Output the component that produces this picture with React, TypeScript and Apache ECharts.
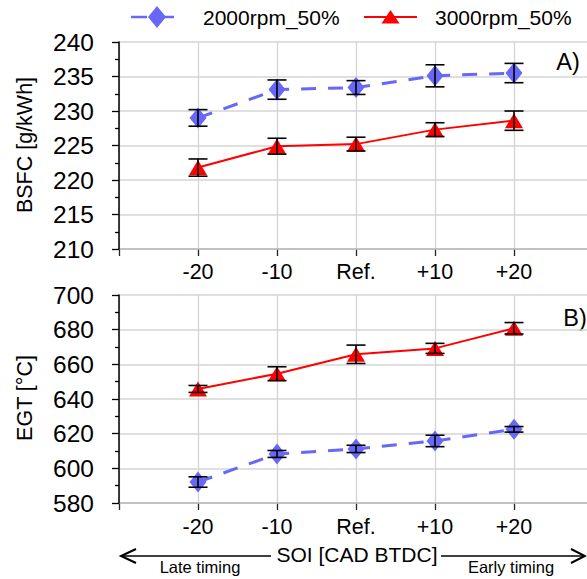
import React, { useEffect, useRef } from "react";
import * as echarts from "echarts";

const categories = ["", "-20", "-10", "Ref.", "+10", "+20", ""];
const seriesNames = ["2000rpm_50%", "3000rpm_50%"];
const bsfc2000 = [null, 229.0, 233.1, 233.4, 235.1, 235.5, null];
const bsfc2000Err = [null, 1.2, 1.4, 1.0, 1.6, 1.4, null];
const bsfc3000 = [null, 221.8, 224.9, 225.2, 227.3, 228.6, null];
const bsfc3000Err = [null, 1.25, 1.15, 1.0, 1.0, 1.4, null];
const egt2000 = [null, 592.1, 608.3, 611.2, 615.8, 622.5, null];
const egt2000Err = [null, 3.0, 2.0, 2.1, 3.3, 1.6, null];
const egt3000 = [null, 645.8, 654.6, 665.8, 669.2, 680.8, null];
const egt3000Err = [null, 2.0, 4.0, 5.3, 2.9, 3.3, null];

const FONT = "'Liberation Sans', Arial, sans-serif";
const BLUE = "#6767F8";
const RED = "#FF0000";

function errData(vals: (number | null)[], errs: (number | null)[]) {
  const out: number[][] = [];
  vals.forEach((v, i) => {
    if (v != null && errs[i] != null) out.push([i, v - (errs[i] as number), v + (errs[i] as number)]);
  });
  return out;
}

function errSeries(vals: (number | null)[], errs: (number | null)[], gi: number) {
  return {
    type: "custom",
    xAxisIndex: gi,
    yAxisIndex: gi,
    z: 10,
    silent: true,
    data: errData(vals, errs),
    encode: { x: 0, y: [1, 2] },
    renderItem: (params: any, api: any) => {
      const x = api.value(0);
      const p1 = api.coord([x, api.value(2)]);
      const p2 = api.coord([x, api.value(1)]);
      const w = 9.5;
      const st = { stroke: "#000", lineWidth: 1.6 };
      return {
        type: "group",
        children: [
          { type: "line", shape: { x1: p1[0], y1: p1[1], x2: p2[0], y2: p2[1] }, style: st },
          { type: "line", shape: { x1: p1[0] - w, y1: p1[1], x2: p1[0] + w, y2: p1[1] }, style: st },
          { type: "line", shape: { x1: p2[0] - w, y1: p2[1], x2: p2[0] + w, y2: p2[1] }, style: st },
        ],
      };
    },
  };
}

function lineSeries(name: string, vals: (number | null)[], gi: number, blue: boolean) {
  return {
    type: "line",
    name,
    xAxisIndex: gi,
    yAxisIndex: gi,
    data: vals,
    connectNulls: false,
    symbol: blue ? "diamond" : "triangle",
    symbolSize: blue ? [17, 21] : [18, 15],
    itemStyle: { color: blue ? BLUE : RED },
    lineStyle: blue
      ? { color: BLUE, width: 3, type: [15, 12] }
      : { color: RED, width: 2 },
    z: 5,
  };
}

function xAxis(gi: number, margin: number) {
  return {
    type: "category",
    gridIndex: gi,
    data: categories,
    boundaryGap: false,
    axisLine: { show: true, lineStyle: { color: "#868686", width: 2 } },
    axisTick: { show: true, inside: false, length: 7, lineStyle: { color: "#222", width: 1.3 }, interval: 0 },
    axisLabel: { interval: 0, fontSize: 21.5, color: "#000", fontFamily: FONT, margin },
    splitLine: { show: true, lineStyle: { color: "#d4d4d4", width: 1.3 } },
    z: 3,
  };
}

function yAxis(gi: number, min: number, max: number, interval: number) {
  return {
    type: "value",
    gridIndex: gi,
    min,
    max,
    interval,
    axisLine: { show: true, onZero: false, lineStyle: { color: "#000", width: 1.5 } },
    axisTick: { show: true, inside: false, length: 7, lineStyle: { color: "#000", width: 1.3 } },
    minorTick: { show: true, splitNumber: 2, length: 4, lineStyle: { color: "#000", width: 1.3 } },
    axisLabel: { fontSize: 24.5, color: "#000", fontFamily: FONT, margin: 25 },
    splitLine: { show: true, lineStyle: { color: "#d4d4d4", width: 1.5 } },
    z: 4,
  };
}

export default function App() {
  const ref = useRef<HTMLDivElement>(null);
  useEffect(() => {
    if (!ref.current) return;
    const chart = echarts.init(ref.current, null, { renderer: "svg" });
    const txt = (text: string, x: number, y: number, size: number, extra: any = {}) => ({
      type: "text",
      x,
      y,
      ...extra,
      style: { text, fill: "#000", font: `${size}px ${FONT}`, textAlign: "center", textVerticalAlign: "middle" },
    });
    const graphic: any[] = [
      // legend
      { type: "line", shape: { x1: 131, y1: 17, x2: 147, y2: 17 }, style: { stroke: BLUE, lineWidth: 2.5 } },
      { type: "line", shape: { x1: 164, y1: 17, x2: 174, y2: 17 }, style: { stroke: BLUE, lineWidth: 2.5 } },
      { type: "polygon", shape: { points: [[157, 6], [166, 17], [157, 28], [148, 17]] }, style: { fill: BLUE } },
      { type: "text", x: 203, y: 17, style: { text: seriesNames[0], fill: "#000", font: `21px ${FONT}`, textAlign: "left", textVerticalAlign: "middle" } },
      { type: "line", shape: { x1: 364, y1: 17, x2: 417, y2: 17 }, style: { stroke: RED, lineWidth: 2 } },
      { type: "polygon", shape: { points: [[390.5, 10], [399.5, 23.5], [381.5, 23.5]] }, style: { fill: RED } },
      { type: "text", x: 435, y: 17, style: { text: seriesNames[1], fill: "#000", font: `21px ${FONT}`, textAlign: "left", textVerticalAlign: "middle" } },
      // axis names
      txt("BSFC [g/kWh]", 25, 145, 21.5, { rotation: Math.PI / 2 }),
      txt("EGT [°C]", 25, 398, 21.5, { rotation: Math.PI / 2 }),
      // panel labels
      txt("A)", 568, 62, 23.5),
      txt("B)", 575, 318, 23.5),
      // bottom axis title and arrows
      txt("SOI [CAD BTDC]", 357, 554, 21),
      { type: "line", shape: { x1: 121, y1: 556, x2: 271, y2: 556 }, style: { stroke: "#000", lineWidth: 1.5 } },
      { type: "polyline", shape: { points: [[136, 549], [121, 556], [136, 563]] }, style: { stroke: "#000", lineWidth: 2, fill: "none" } },
      { type: "line", shape: { x1: 441, y1: 556, x2: 585, y2: 556 }, style: { stroke: "#000", lineWidth: 1.5 } },
      { type: "polyline", shape: { points: [[571, 549], [585, 556], [571, 563]] }, style: { stroke: "#000", lineWidth: 2, fill: "none" } },
      txt("Late timing", 200, 567, 16.5),
      txt("Early timing", 511, 567, 16.5),
    ];
    chart.setOption({
      animation: false,
      backgroundColor: "#fff",
      textStyle: { fontFamily: FONT },
      grid: [
        { left: 119, top: 42, width: 474, height: 207, outerBoundsMode: "none", containLabel: false },
        { left: 119, top: 295, width: 474, height: 208, outerBoundsMode: "none", containLabel: false },
      ],
      xAxis: [xAxis(0, 12), xAxis(1, 13)],
      yAxis: [yAxis(0, 210, 240, 5), yAxis(1, 580, 700, 20)],
      series: [
        lineSeries(seriesNames[0], bsfc2000, 0, true),
        lineSeries(seriesNames[1], bsfc3000, 0, false),
        lineSeries(seriesNames[0], egt2000, 1, true),
        lineSeries(seriesNames[1], egt3000, 1, false),
        errSeries(bsfc2000, bsfc2000Err, 0),
        errSeries(bsfc3000, bsfc3000Err, 0),
        errSeries(egt2000, egt2000Err, 1),
        errSeries(egt3000, egt3000Err, 1),
      ],
      graphic,
    });
    return () => chart.dispose();
  }, []);
  return (
    <div
      ref={ref}
      style={{ position: "fixed", left: 0, top: 0, width: 587, height: 579 }}
    />
  );
}
